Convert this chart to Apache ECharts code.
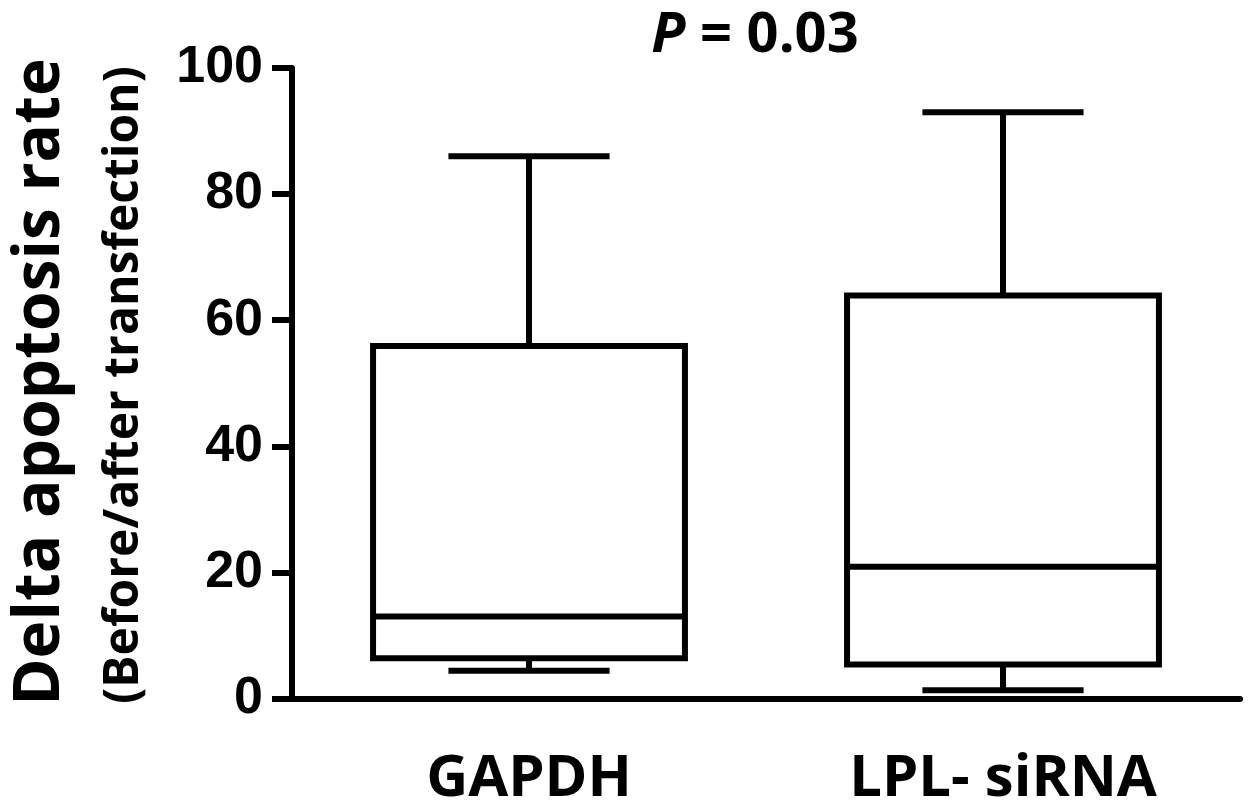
<!DOCTYPE html>
<html>
<head>
<meta charset="utf-8">
<script src="https://cdn.jsdelivr.net/npm/echarts@6/dist/echarts.min.js"></script>
<style>
html, body { margin: 0; padding: 0; background: #fff; }
#chart { width: 1254px; height: 810px; }
</style>
</head>
<body>
<div id="chart"></div>
<script>
var categories = ['GAPDH', 'LPL- siRNA']
var whiskerLow = [4.4, 1.3]
var q1 = [6.4, 5.4]
var median = [13.0, 20.9]
var q3 = [55.9, 63.9]
var whiskerHigh = [86.0, 93.0]
var yTicks = [0, 20, 40, 60, 80, 100]

var boxData = categories.map(function (c, i) {
    return [i, whiskerLow[i], q1[i], median[i], q3[i], whiskerHigh[i]]
})

var lw = 6
function lineEl(x1, y1, x2, y2) {
    return {
        type: 'line',
        shape: { x1: x1, y1: y1, x2: x2, y2: y2 },
        style: { stroke: '#000', lineWidth: lw, lineCap: 'butt' }
    }
}

function renderBox(params, api) {
    var x = api.value(0)
    var bandW = api.size([1, 0])[0]
    var half = bandW * 0.329     // box half width
    var capHalf = bandW * 0.17   // whisker cap half width
    var pLow = api.coord([x, api.value(1)])
    var pQ1 = api.coord([x, api.value(2)])
    var pMed = api.coord([x, api.value(3)])
    var pQ3 = api.coord([x, api.value(4)])
    var pHigh = api.coord([x, api.value(5)])
    var cx = pMed[0]
    return {
        type: 'group',
        children: [
            lineEl(cx, pQ3[1], cx, pHigh[1]),
            lineEl(cx - capHalf, pHigh[1], cx + capHalf, pHigh[1]),
            lineEl(cx, pLow[1], cx, pQ1[1]),
            lineEl(cx - capHalf, pLow[1], cx + capHalf, pLow[1]),
            {
                type: 'rect',
                shape: { x: cx - half, y: pQ3[1], width: half * 2, height: pQ1[1] - pQ3[1] },
                style: { fill: '#fff', stroke: '#000', lineWidth: lw }
            },
            lineEl(cx - half, pMed[1], cx + half, pMed[1])
        ]
    }
}

var chart = echarts.init(document.getElementById('chart'))
var option = {
    backgroundColor: '#fff',
    animation: false,
    grid: { left: 292, right: 14, top: 68, bottom: 111.5 },
    xAxis: {
        type: 'category',
        data: categories,
        boundaryGap: true,
        axisLine: { show: true, lineStyle: { color: '#000', width: 6 } },
        axisTick: { show: false },
        axisLabel: {
            color: '#000',
            fontFamily: 'Open Sans',
            fontWeight: 'bold',
            fontSize: 58,
            margin: 52
        },
        splitLine: { show: false }
    },
    yAxis: {
        type: 'value',
        min: yTicks[0],
        max: yTicks[yTicks.length - 1],
        interval: 20,
        axisLine: { show: true, lineStyle: { color: '#000', width: 6 } },
        axisTick: { show: true, length: 20, lineStyle: { color: '#000', width: 6 } },
        axisLabel: {
            color: '#000',
            fontFamily: 'Liberation Sans',
            fontWeight: 'bold',
            fontSize: 52,
            margin: 29
        },
        splitLine: { show: false }
    },
    graphic: [
        {
            type: 'text', x: 755, y: 36,
            style: {
                text: '{i|P} = 0.03',
                font: 'bold 56px "Open Sans"',
                fill: '#000',
                align: 'center',
                verticalAlign: 'middle',
                rich: {
                    i: { fontStyle: 'italic', fontWeight: 'bold', fontSize: 56, fontFamily: 'Open Sans', fill: '#000' }
                }
            }
        },
        {
            type: 'text', x: 41, y: 382, rotation: Math.PI / 2,
            style: {
                text: 'Delta apoptosis rate',
                font: 'bold 64px "Open Sans"',
                fill: '#000', align: 'center', verticalAlign: 'middle'
            }
        },
        {
            type: 'text', x: 124, y: 385, rotation: Math.PI / 2,
            style: {
                text: '(Before/after transfection)',
                font: 'bold 48px "Open Sans"',
                fill: '#000', align: 'center', verticalAlign: 'middle'
            }
        }
    ],
    series: [{
        type: 'custom',
        renderItem: renderBox,
        encode: { x: 0, y: [1, 2, 3, 4, 5] },
        data: boxData,
        clip: false
    }]
}
chart.setOption(option)
</script>
</body>
</html>
